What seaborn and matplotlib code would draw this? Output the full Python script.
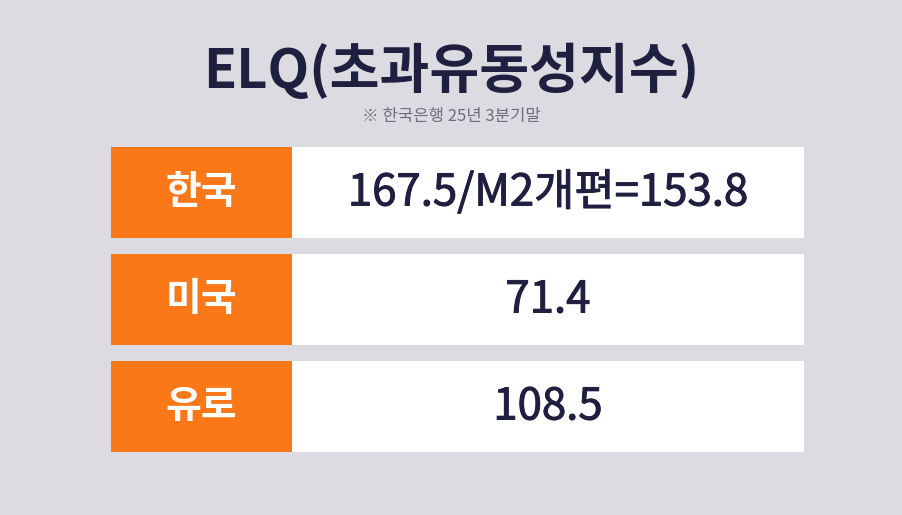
import matplotlib
matplotlib.use("Agg")
import pandas as pd
import seaborn as sns
from matplotlib import pyplot as plt
from matplotlib import patheffects as pe

# data shown in the card
regions = ['한국', '미국', '유로']
elq_values = ['167.5/M2개편=153.8', '71.4', '108.5']
title = 'ELQ(초과유동성지수)'
note = '※ 한국은행 25년 3분기말'

# layout (pixels of a 902x515 image)
W, H = 902, 515
table_left, table_right = 111, 804
table_top, table_bottom = 147, 452
label_w = 181
row_gap = 16

bg = '#dcdbe1'
orange = '#fb7818'
navy = '#1f1f3f'

sns.set_theme(style='white')
plt.rcParams['font.family'] = ['Noto Sans CJK KR', 'DejaVu Sans']

df = pd.DataFrame({'region': regions, 'value': elq_values})
df['full'] = table_right - table_left
df['label'] = label_w

fig = plt.figure(figsize=(W / 100, H / 100), dpi=100, facecolor=bg)
ax = fig.add_axes([table_left / W, 1 - table_bottom / H,
                   (table_right - table_left) / W, (table_bottom - table_top) / H])
ax.set_facecolor('none')

n = len(regions)
pitch = (table_bottom - table_top + row_gap) / n
bar_h = (pitch - row_gap) / pitch

# white value cells, then orange label cells on top
sns.barplot(data=df, x='full', y='region', color='white', width=bar_h,
            saturation=1, ax=ax, orient='h', linewidth=0)
sns.barplot(data=df, x='label', y='region', color=orange, width=bar_h,
            saturation=1, ax=ax, orient='h', linewidth=0)

ax.set_xlim(0, table_right - table_left)
ax.set_ylim(n - 1 + bar_h / 2, -bar_h / 2)
ax.axis('off')

# regular weight plus a thin outline, close to a "medium" face
medium = [pe.withStroke(linewidth=0.7, foreground=navy)]

for i, row in df.iterrows():
    ax.text(label_w / 2, i, row['region'], ha='center', va='center',
            color='white', fontsize=28, fontweight='bold')
    ax.text((label_w + row['full']) / 2, i, row['value'], ha='center', va='center',
            color=navy, fontsize=31.5, path_effects=medium)

fig.text(0.5, 1 - 72 / H, title, ha='center', va='center', color=navy,
         fontsize=39, fontweight='bold')
fig.text(0.5, 1 - 117 / H, note, ha='center', va='center', color='#6e6e78',
         fontsize=12)

plt.savefig('out.png', dpi=100, facecolor=bg)
